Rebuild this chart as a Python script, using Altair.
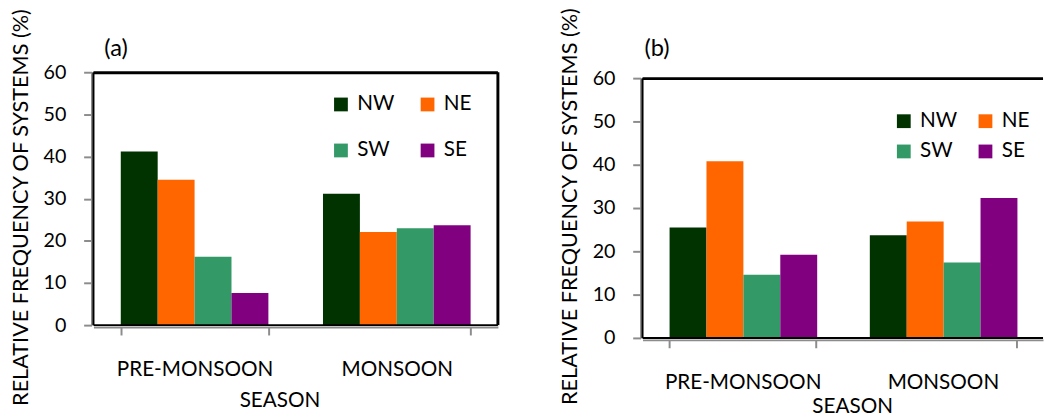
import altair as alt
import pandas as pd

seasons = ["PRE-MONSOON", "MONSOON"]
directions = ["NW", "NE", "SW", "SE"]
palette = ["#003300", "#ff6600", "#339966", "#800080"]
y_ticks = [0, 10, 20, 30, 40, 50, 60]

# relative frequency of systems (%), one list per direction: [pre-monsoon, monsoon]
a_nw = [41.2, 31.2]
a_ne = [34.5, 22.1]
a_sw = [16.2, 23.0]
a_se = [7.6, 23.7]

b_nw = [25.5, 23.7]
b_ne = [40.8, 26.9]
b_sw = [14.6, 17.4]
b_se = [19.2, 32.3]

FONT = "Lato"
GREY = "#8c8c8c"


def frame(series):
    rows = []
    for d, vals in zip(directions, series):
        for s, v in zip(seasons, vals):
            rows.append({"season": s, "direction": d, "freq": v})
    return pd.DataFrame(rows)


def decorations(w, h, top, sides, tag, tag_x, tag_y):
    one = pd.DataFrame({"k": [0]})
    parts = []
    if "top" in sides:
        parts.append(alt.Chart(one).mark_rule(color="black", strokeWidth=3)
                     .encode(x=alt.value(0), x2=alt.value(w), y=alt.value(top + 0.5)))
    if "right" in sides:
        parts.append(alt.Chart(one).mark_rule(color="black", strokeWidth=3)
                     .encode(x=alt.value(w), y=alt.value(top), y2=alt.value(h)))
    if "bottom" in sides:
        parts.append(alt.Chart(one).mark_rule(color="black", strokeWidth=2)
                     .encode(x=alt.value(0), x2=alt.value(w), y=alt.value(h)))
    if "left" in sides:
        parts.append(alt.Chart(one).mark_rule(color="black", strokeWidth=2)
                     .encode(x=alt.value(0), y=alt.value(top), y2=alt.value(h)))
    # panel tag, e.g. "(a)"
    parts.append(alt.Chart(one).mark_text(text=tag, font=FONT, fontSize=24,
                                          align="left", baseline="alphabetic",
                                          color="black")
                 .encode(x=alt.value(tag_x), y=alt.value(top + tag_y)))
    return parts


def panel(df, tag, ytitle, w, h, top, leg_x, leg_y, row_pad, col_pad,
          tag_x, tag_y, season_x, season_pad, ytitle_y, sides):
    bars = alt.Chart(df).mark_bar(strokeWidth=0).encode(
        x=alt.X("season:N", sort=seasons,
                scale=alt.Scale(paddingInner=0.27, paddingOuter=0.135),
                axis=alt.Axis(title="SEASON", tickBand="extent", labelAngle=0,
                              offset=2, domainColor=GREY, domainWidth=2,
                              tickColor=GREY, tickWidth=2, tickSize=8,
                              labelFont=FONT, labelFontSize=21, labelColor="black",
                              labelPadding=24, titleFont=FONT, titleFontSize=21,
                              titleFontWeight="normal", titleColor="black",
                              titlePadding=season_pad, titleX=season_x)),
        xOffset=alt.XOffset("direction:N", sort=directions,
                            scale=alt.Scale(domain=directions)),
        y=alt.Y("freq:Q", scale=alt.Scale(domain=[0, 60], nice=False, range=[h, top]),
                axis=alt.Axis(values=y_ticks, title=ytitle, grid=False, offset=2,
                              domainColor=GREY, domainWidth=2, tickColor=GREY,
                              tickWidth=2, tickSize=8, labelFont=FONT,
                              labelFontSize=20, labelColor="black", labelPadding=18,
                              titleFont=FONT, titleFontSize=22,
                              titleFontWeight="normal", titleColor="black",
                              titlePadding=11, titleY=ytitle_y)),
        color=alt.Color("direction:N",
                        scale=alt.Scale(domain=directions, range=palette),
                        legend=alt.Legend(orient="none", legendX=leg_x,
                                          legendY=top + leg_y,
                                          direction="horizontal",
                                          columns=2, title=None, padding=0,
                                          symbolType="square", symbolSize=196,
                                          symbolStrokeWidth=0, symbolOpacity=1,
                                          labelFont=FONT, labelFontSize=21,
                                          labelColor="black", labelOffset=6,
                                          rowPadding=row_pad, columnPadding=col_pad)),
    )
    return alt.layer(bars, *decorations(w, h, top, sides, tag, tag_x, tag_y)).properties(
        width=w, height=h,
    )


left = panel(frame([a_nw, a_ne, a_sw, a_se]), "(a)",
             "RELATIVE FREQUENCY OF SYSTEMS (%)", 411, 257, 0,
             241, 22, 25, 23, 11, -16, 189, 11, 137,
             ["top", "right", "bottom", "left"])
right = panel(frame([b_nw, b_ne, b_sw, b_se]), "(b)",
              "RELATIVE FREQUENCY OF SYSTEMS  (%)", 407, 270, 6,
              255, 33, 9, 18, 2, -22, 213, 4, 136,
              ["top", "bottom", "left"])

chart = alt.hconcat(left, right, spacing=59).resolve_scale(
    color="independent", x="independent", y="independent"
).resolve_legend(color="independent").properties(
    padding={"left": 9, "top": 0, "right": 0, "bottom": 0},
    background="white",
).configure_view(stroke=None)

chart.save("out.html", embed_options={"renderer": "svg", "actions": False})
